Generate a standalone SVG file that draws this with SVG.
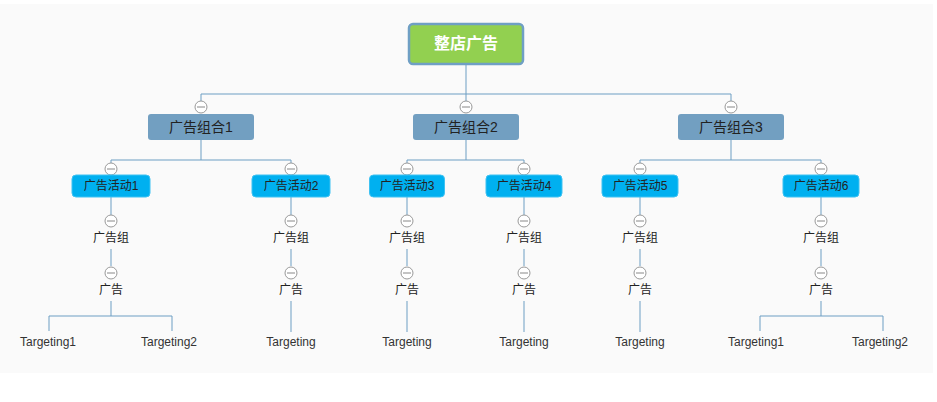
<svg xmlns="http://www.w3.org/2000/svg" width="937" height="402" viewBox="0 0 937 402">
<defs>
<style>
text{font-family:"Liberation Sans","Noto Sans CJK SC",sans-serif;text-anchor:middle;dominant-baseline:central;fill:#222;font-size:12px}
.root rect{fill:#92d050;stroke:#6f9fc4;stroke-width:2.5}
.root text{fill:#fff;font-size:16px;font-weight:bold}
.l1 rect{fill:#729fc1}
.l1 text{font-size:14px}
.l2 rect{fill:#00b0f0;stroke:#3fc2f2;stroke-width:1}
.leaf text{fill:#333}
.c path{fill:none;stroke:#6d9ec3;stroke-width:1}
</style>
<g id="tg"><circle r="6" fill="#fff" stroke="#999" stroke-width="1"/><line x1="-4" y1="0" x2="4" y2="0" stroke="#888" stroke-width="1"/></g>
</defs>
<rect x="0" y="0" width="937" height="402" fill="#fff"/>
<rect x="0" y="4" width="933" height="369" fill="#fafafa"/>

<g id="connectors" class="c">
<path d="M466 64V94M201 94H731M201 94V101M466 94V101M731 94V101"/>
<path d="M201 140V160M111 160H291M111 160V163M291 160V163"/>
<path d="M466 140V160M407 160H524M407 160V163M524 160V163"/>
<path d="M731 140V160M640 160H821M640 160V163M821 160V163"/>
<path d="M111 197V215M291 197V215M407 197V215M524 197V215M640 197V215M821 197V215"/>
<path d="M111 249V266M291 249V266M407 249V266M524 249V266M640 249V266M821 249V266"/>
<path d="M111 301V316M49 316H172M49 316V331M172 316V331"/>
<path d="M291 301V332M407 301V332M524 301V332M640 301V332"/>
<path d="M821 301V316M760 316H883M760 316V331M883 316V331"/>
</g>

<g id="toggles">
<use href="#tg" x="201" y="107"/><use href="#tg" x="466" y="107"/><use href="#tg" x="731" y="107"/>
<use href="#tg" x="111" y="169"/><use href="#tg" x="291" y="169"/><use href="#tg" x="407" y="169"/><use href="#tg" x="524" y="169"/><use href="#tg" x="640" y="169"/><use href="#tg" x="821" y="169"/>
<use href="#tg" x="111" y="221"/><use href="#tg" x="291" y="221"/><use href="#tg" x="407" y="221"/><use href="#tg" x="524" y="221"/><use href="#tg" x="640" y="221"/><use href="#tg" x="821" y="221"/>
<use href="#tg" x="111" y="273"/><use href="#tg" x="291" y="273"/><use href="#tg" x="407" y="273"/><use href="#tg" x="524" y="273"/><use href="#tg" x="640" y="273"/><use href="#tg" x="821" y="273"/>
</g>

<g id="root" class="root"><rect x="409" y="24" width="114" height="40" rx="4"/><text x="466" y="43">整店广告</text></g>

<g id="combo1" class="l1"><rect x="148" y="114" width="106" height="26" rx="3"/><text x="201" y="127">广告组合1</text></g>
<g id="combo2" class="l1"><rect x="413" y="114" width="106" height="26" rx="3"/><text x="466" y="127">广告组合2</text></g>
<g id="combo3" class="l1"><rect x="678" y="114" width="106" height="26" rx="3"/><text x="731" y="127">广告组合3</text></g>

<g id="camp1" class="l2"><rect x="72" y="175" width="78" height="22" rx="4"/><text x="111" y="186">广告活动1</text></g>
<g id="camp2" class="l2"><rect x="252" y="175" width="78" height="22" rx="4"/><text x="291" y="186">广告活动2</text></g>
<g id="camp3" class="l2"><rect x="369.500" y="175" width="75" height="22" rx="4"/><text x="407" y="186">广告活动3</text></g>
<g id="camp4" class="l2"><rect x="486" y="175" width="76" height="22" rx="4"/><text x="524" y="186">广告活动4</text></g>
<g id="camp5" class="l2"><rect x="602" y="175" width="76" height="22" rx="4"/><text x="640" y="186">广告活动5</text></g>
<g id="camp6" class="l2"><rect x="783" y="175" width="76" height="22" rx="4"/><text x="821" y="186">广告活动6</text></g>

<g id="group1"><text x="111" y="238">广告组</text></g>
<g id="group2"><text x="291" y="238">广告组</text></g>
<g id="group3"><text x="407" y="238">广告组</text></g>
<g id="group4"><text x="524" y="238">广告组</text></g>
<g id="group5"><text x="640" y="238">广告组</text></g>
<g id="group6"><text x="821" y="238">广告组</text></g>

<g id="ad1"><text x="111" y="290">广告</text></g>
<g id="ad2"><text x="291" y="290">广告</text></g>
<g id="ad3"><text x="407" y="290">广告</text></g>
<g id="ad4"><text x="524" y="290">广告</text></g>
<g id="ad5"><text x="640" y="290">广告</text></g>
<g id="ad6"><text x="821" y="290">广告</text></g>

<g id="tgt1a" class="leaf"><text x="48" y="342">Targeting1</text></g>
<g id="tgt1b" class="leaf"><text x="169" y="342">Targeting2</text></g>
<g id="tgt2" class="leaf"><text x="291" y="342">Targeting</text></g>
<g id="tgt3" class="leaf"><text x="407" y="342">Targeting</text></g>
<g id="tgt4" class="leaf"><text x="524" y="342">Targeting</text></g>
<g id="tgt5" class="leaf"><text x="640" y="342">Targeting</text></g>
<g id="tgt6a" class="leaf"><text x="756" y="342">Targeting1</text></g>
<g id="tgt6b" class="leaf"><text x="880" y="342">Targeting2</text></g>
</svg>
